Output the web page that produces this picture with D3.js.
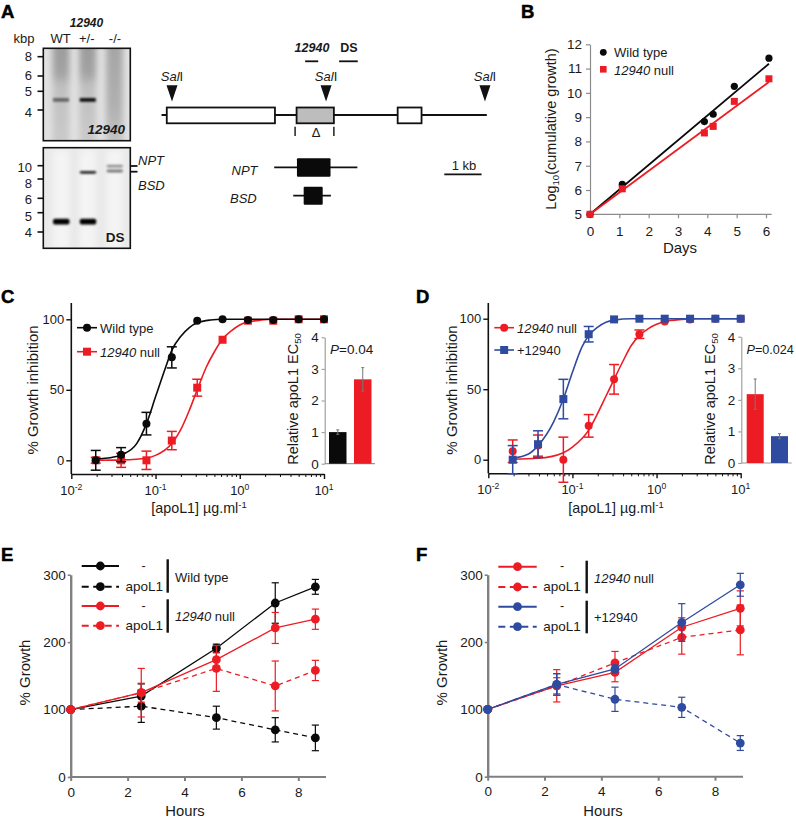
<!DOCTYPE html>
<html><head><meta charset="utf-8">
<script src="https://cdnjs.cloudflare.com/ajax/libs/d3/7.8.5/d3.min.js"></script>
<style>html,body{margin:0;padding:0;background:#fff}svg{display:block}text{font-family:"Liberation Sans",Arial,sans-serif;fill:#1a1a1a}</style>
</head><body><svg id="c" width="796" height="818"></svg>
<script>
// ---------- data ----------
const RED="#ed1c24", BLACK="#0a0a0a", BLUE="#2f4b9f", GREY="#808080";
// A blots
const laneNames=["WT","+/-","-/-"];
const kbpUpper=[8,6,5,4];
const kbpLower=[10,8,6,5,4];
const upperBandLane=["WT","+/-"];
const upperBandKb=[4.54,4.54];
const upperBandDark=[0.5,0.95];
const lowerBandLane=["WT","+/-","+/-","-/-","-/-"];
const lowerBandKb=[4.54,4.54,9.0,9.95,9.2];
const lowerBandDark=[1,1,0.85,0.4,0.5];
// A map (kb from the first SalI site)
const salSites=[0,4.13,8.39];
const geneLine=[-0.28,8.44];
const exonStart=[-0.14,3.34,6.05];
const exonEnd=[2.76,4.34,6.69];
const exonFill=["#fff","#bdbdbd","#fff"];
const probe12940=[3.57,3.92];
const probeDS=[4.48,4.98];
const deltaTicks=[3.30,4.34];
const nptLine=[2.74,4.97], nptBox=[3.35,4.25];
const bsdLine=[3.25,4.26], bsdBox=[3.53,4.04];
const scaleBar=[7.30,8.30];
// B
const daysB=[0,1.1,3.9,4.2,4.92,6.1];
const wtB=[5,6.23,8.82,9.12,10.27,11.43];
const nullB=[5,6.05,8.35,8.62,9.65,10.58];
const fitDays=[0,6.1];
const fitWt=[5,11.2];
const fitNull=[5,10.45];
// C, D dose response
const dose=[0.0195,0.039,0.078,0.156,0.3125,0.625,1.25,2.5,5,10];
const wtC=[0,4,26,73,99,100,99.5,99.5,100,100];
const wtCerr=[7,5,8,7.5,0,0,0,0,0,0];
const nullC=[0,0,0,14,51.5,85.5,99,99,100,100];
const nullCerr=[2,5,6.5,6.5,6,0,0,0,0,0];
const curveDoseWtC=[0.0195,0.03,0.04,0.06,0.078,0.1,0.13,0.156,0.2,0.25,0.3125,0.45,0.625,10];
const curveWtC=[1,2,4,12,26,45,65,78,88,94,97.5,99.5,100,100];
const curveDoseNullC=[0.0195,0.04,0.078,0.1,0.156,0.2,0.25,0.3125,0.4,0.5,0.625,0.8,1,1.25,1.8,2.5,10];
const curveNullC=[0,0.3,1.5,3.5,12,22,35,50,66,77,86,92,96,98,99.5,100,100];
const nullD=[6,10,0,24,57,89,98,99.5,100,100];
const nullDerr=[8,7.5,16,8,10.5,3,0,0,0,0];
const plusD=[0,11,43,89,99.5,100,100,100,100,100];
const plusDerr=[10,9.5,14,5.5,0,0,0,0,0,0];
const curveDosePlusD=[0.0195,0.03,0.039,0.06,0.078,0.1,0.13,0.156,0.2,0.25,0.3125,0.5,10];
const curvePlusD=[1,4,10,27,43,62,80,88,94,97.5,99,100,100];
const curveDoseNullD=[0.0195,0.039,0.078,0.1,0.156,0.2,0.25,0.3125,0.4,0.5,0.625,0.8,1,1.25,2,3,10];
const curveNullD=[0.3,1,5,9,21,33,45,57,70,81,88,93,96,98,99.5,100,100];
// insets
const barC=[1,2.67], barCerr=[0.07,0.37];
const barD=[2.18,0.85], barDerr=[0.48,0.08];
// E
const hoursE=[0,2.48,5.12,7.19,8.6];
const wtE=[100,120,191,258,282];
const wtEerr=[0,18,6,30,11];
const wtApoE=[100,105,88,70,58];
const wtApoEerr=[0,24,17,18,19];
const nullE=[100,125,174,221,234];
const nullEerr=[0,14,10,23,15];
const nullApoE=[100,125,161,135,158];
const nullApoEerr=[0,36,34,37,15];
// F
const hoursF=[0,2.43,4.48,6.83,8.89];
const nullF=[100,135,155,222,250];
const nullFerr=[0,12,14,14,26];
const nullApoF=[100,135,169,207,218];
const nullApoFerr=[0,24,17,25,37];
const plusF=[100,137,160,229,285];
const plusFerr=[0,16,6,28,17];
const plusApoF=[100,137,115,103,50];
const plusApoFerr=[0,16,18,15,11];

// ---------- helpers ----------
const svg=d3.select("#c");
const defs=svg.append("defs");
defs.append("filter").attr("id","b1").attr("x","-30%").attr("y","-60%").attr("width","160%").attr("height","220%").append("feGaussianBlur").attr("stdDeviation",0.9);
defs.append("filter").attr("id","b3").attr("x","-40%").attr("y","-30%").attr("width","180%").attr("height","160%").append("feGaussianBlur").attr("stdDeviation",3);
function T(x,y,segs,o={}){
  const t=svg.append("text").attr("x",x).attr("y",y).attr("font-size",o.size||13)
    .attr("text-anchor",o.anchor||"start");
  if(o.rotate) t.attr("transform",`rotate(${o.rotate} ${x} ${y})`);
  if(typeof segs==="string") segs=[{t:segs,w:o.weight,i:o.italic}];
  segs.forEach(s=>{
    const p=t.append("tspan").text(s.t);
    if(s.i||o.italic) p.attr("font-style","italic");
    if(s.w||o.weight) p.attr("font-weight",s.w||o.weight);
    if(s.sup){p.attr("font-size",(o.size||13)*0.66).attr("dy",-5);}
    if(s.sub){p.attr("font-size",(o.size||13)*0.66).attr("dy",3);}
    if(s.back) p.attr("dy",s.back);
  });
  return t;
}
function styleAxis(g,col,w,fs){
  g.select(".domain").attr("stroke",col).attr("stroke-width",w);
  g.selectAll(".tick line").attr("stroke",col).attr("stroke-width",w);
  g.selectAll("text").attr("font-size",fs||13).style("font-family",'"Liberation Sans",Arial,sans-serif').attr("fill","#1a1a1a");
}
function errBars(g,xs,ys,es,x,y,col,cap,w){
  xs.forEach((d,i)=>{ if(!es[i]) return;
    const px=x(d),a=y(ys[i]-es[i]),b=y(ys[i]+es[i]);
    g.append("line").attr("x1",px).attr("x2",px).attr("y1",a).attr("y2",b).attr("stroke",col).attr("stroke-width",w);
    [a,b].forEach(v=>g.append("line").attr("x1",px-cap).attr("x2",px+cap).attr("y1",v).attr("y2",v).attr("stroke",col).attr("stroke-width",w));
  });
}
function circles(g,xs,ys,x,y,col,r){
  g.selectAll(null).data(xs).enter().append("circle").attr("cx",d=>x(d)).attr("cy",(d,i)=>y(ys[i])).attr("r",r).attr("fill",col);
}
function squares(g,xs,ys,x,y,col,s){
  g.selectAll(null).data(xs).enter().append("rect").attr("x",d=>x(d)-s/2).attr("y",(d,i)=>y(ys[i])-s/2).attr("width",s).attr("height",s).attr("fill",col);
}
function path(g,xs,ys,x,y,col,w,dash,curve){
  const l=d3.line().x(d=>x(d[0])).y(d=>y(d[1]));
  if(curve) l.curve(curve);
  const p=g.append("path").attr("d",l(xs.map((d,i)=>[d,ys[i]]))).attr("fill","none").attr("stroke",col).attr("stroke-width",w);
  if(dash) p.attr("stroke-dasharray",dash);
}
const panelLetters=[["A",1,17.5],["B",521,17.5],["C",1,302.5],["D",416,302.5],["E",1,561],["F",416,561]];
panelLetters.forEach(p=>T(p[1],p[2],p[0],{size:18.5,weight:"bold"}).select("tspan").attr("fill","#000").attr("stroke","#000").attr("stroke-width",0.5));

// ---------- A blots ----------
const laneX=d3.scalePoint().domain(laneNames).range([61,114.5]);
const blotU=svg.append("g"), blotL=svg.append("g");
const uY=d3.scaleLinear().domain([8,6,5,4]).range([56.7,76,91.3,110]);
const lY=d3.scaleLinear().domain([10,8,6,5,4]).range([165.7,179,198.3,212.7,232]);
const uLab=d3.scaleOrdinal().domain([8,6,5,4]).range([56,75,91,112.7]);
const lLab=d3.scaleOrdinal().domain([10,8,6,5,4]).range([167.7,183.3,199,216,232]);
defs.append("clipPath").attr("id","cu").append("rect").attr("x",43.5).attr("y",48.5).attr("width",87).attr("height",92);
defs.append("clipPath").attr("id","cl").append("rect").attr("x",43.5).attr("y",148).attr("width",87).attr("height",100);
const gu=blotU.append("g").attr("clip-path","url(#cu)");
gu.append("rect").attr("x",43).attr("y",48).attr("width",88).attr("height",93).attr("fill","#e2e2e2");
const lgU=defs.append("linearGradient").attr("id","lanes").attr("x1",0).attr("x2",0).attr("y1",0).attr("y2",1);
[[0,"#9a9a9a"],[0.3,"#a2a2a2"],[0.42,"#c0c0c0"],[1,"#cbcbcb"]].forEach(s=>lgU.append("stop").attr("offset",s[0]).attr("stop-color",s[1]));
const lgN=defs.append("linearGradient").attr("id","laneN").attr("x1",0).attr("x2",0).attr("y1",0).attr("y2",1);
[[0,"#a4a4a4"],[0.6,"#b0b0b0"],[1,"#c8c8c8"]].forEach(s=>lgN.append("stop").attr("offset",s[0]).attr("stop-color",s[1]));
laneNames.forEach((n,i)=>gu.append("rect").attr("x",laneX(n)-8.5).attr("y",40).attr("width",17).attr("height",110).attr("fill",i===2?"url(#laneN)":"url(#lanes)").attr("filter","url(#b3)"));
upperBandLane.forEach((n,i)=>gu.append("rect").attr("x",laneX(n)-8).attr("y",uY(upperBandKb[i])-1.8).attr("width",16).attr("height",3.6)
  .attr("fill","#000").attr("opacity",upperBandDark[i]).attr("filter","url(#b1)"));
const gl=blotL.append("g").attr("clip-path","url(#cl)");
gl.append("rect").attr("x",43).attr("y",147).attr("width",88).attr("height",102).attr("fill","#e9e9e9");
laneNames.forEach(n=>gl.append("rect").attr("x",laneX(n)-8).attr("y",150).attr("width",16).attr("height",100).attr("fill","#f4f4f4").attr("filter","url(#b3)"));
lowerBandLane.forEach((n,i)=>{
  const big=lowerBandKb[i]<5;
  gl.append("rect").attr("x",laneX(n)-8).attr("y",lY(lowerBandKb[i])-(big?2.8:1.4)).attr("width",16.5).attr("height",big?5.6:2.8)
    .attr("rx",2).attr("fill","#000").attr("opacity",lowerBandDark[i]).attr("filter","url(#b1)");
});
[[48.3,92.4],[147.7,100.6]].forEach(r=>svg.append("rect").attr("x",43.3).attr("y",r[0]).attr("width",87).attr("height",r[1]).attr("fill","none").attr("stroke","#111").attr("stroke-width",1.6));
kbpUpper.forEach(k=>{svg.append("line").attr("x1",37.5).attr("x2",43).attr("y1",uY(k)).attr("y2",uY(k)).attr("stroke","#111").attr("stroke-width",1.6);
  T(32,uLab(k)+4.7,String(k),{anchor:"end",size:13});});
kbpLower.forEach(k=>{svg.append("line").attr("x1",37.5).attr("x2",43).attr("y1",lY(k)).attr("y2",lY(k)).attr("stroke","#111").attr("stroke-width",1.6);
  T(32,lLab(k)+4.7,String(k),{anchor:"end",size:13});});
T(86.5,27,"12940",{anchor:"middle",size:12,weight:"bold",italic:true});
T(13.5,43,"kbp",{size:13});
const laneLabelX=[60.5,86.7,115];
laneNames.forEach((n,i)=>T(laneLabelX[i],43,n,{anchor:"middle",size:13}));
T(125,134,"12940",{anchor:"end",size:13.5,weight:"bold",italic:true});
T(124.5,242,"DS",{anchor:"end",size:13.5,weight:"bold"});
[166,171.7].forEach(v=>svg.append("line").attr("x1",130.5).attr("x2",137.5).attr("y1",v).attr("y2",v).attr("stroke","#111").attr("stroke-width",1.8));
T(138,165,"NPT",{size:13,italic:true});
T(138,181+9,"BSD",{size:13,italic:true});

// ---------- A map ----------
const kb=d3.scaleLinear().domain([0,1]).range([172,209.3]);
const mp=svg.append("g");
const hl=(a,y,w,col)=>mp.append("line").attr("x1",kb(a[0])).attr("x2",kb(a[1])).attr("y1",y).attr("y2",y).attr("stroke",col||"#111").attr("stroke-width",w);
hl(geneLine,115,1.8);
exonStart.forEach((s,i)=>mp.append("rect").attr("x",kb(s)).attr("y",107.5).attr("width",kb(exonEnd[i])-kb(s)).attr("height",15.8).attr("fill",exonFill[i]).attr("stroke","#111").attr("stroke-width",1.8));
salSites.forEach(s=>{
  const x=kb(s);
  mp.append("path").attr("d",d3.line()([[x-5.5,85.3],[x+5.5,85.3],[x,101.5]])+"Z").attr("fill","#111");
  T(x,81,[{t:"Sal",i:true},{t:"I"}],{anchor:"middle",size:13});
});
hl(probe12940,61.3,1.8); hl(probeDS,61.3,1.8);
T(312,52,"12940",{anchor:"middle",size:12.5,weight:"bold",italic:true});
T(349,52,"DS",{anchor:"middle",size:12.5,weight:"bold"});
deltaTicks.forEach(d=>mp.append("line").attr("x1",kb(d)).attr("x2",kb(d)).attr("y1",126.7).attr("y2",136).attr("stroke","#111").attr("stroke-width",1.4));
T(316,137,"Δ",{anchor:"middle",size:13});
hl(nptLine,167.3,1.8);
mp.append("rect").attr("x",kb(nptBox[0])).attr("y",158.3).attr("width",kb(nptBox[1])-kb(nptBox[0])).attr("height",18.4).attr("rx",1).attr("fill","#0a0a0a");
hl(bsdLine,195.7,1.8);
mp.append("rect").attr("x",kb(bsdBox[0])).attr("y",186.7).attr("width",kb(bsdBox[1])-kb(bsdBox[0])).attr("height",18).attr("rx",1).attr("fill","#0a0a0a");
T(231.5,175,"NPT",{size:13,italic:true});
T(230,203,"BSD",{size:13,italic:true});
hl(scaleBar,174.3,1.8);
T(kb(7.83),170,"1 kb",{anchor:"middle",size:13});

// ---------- B ----------
{
  const x=d3.scaleLinear().domain([0,6]).range([590,766]);
  const y=d3.scaleLinear().domain([5,12]).range([214.3,44.3]);
  const g=svg.append("g");
  const ax=g.append("g").attr("transform","translate(0,214.3)").call(d3.axisBottom(x).tickValues(d3.range(0,7)).tickSize(4).tickPadding(8).tickFormat(d3.format("d")).tickSizeOuter(0));
  styleAxis(ax,"#8c8c8c",1.2,13.5);
  ax.select(".domain").attr("d","M590,0H771.7");
  const ay=g.append("g").attr("transform","translate(590,0)").call(d3.axisLeft(y).tickValues(d3.range(5,13)).tickSize(4).tickPadding(4).tickFormat(d3.format("d")).tickSizeOuter(0));
  styleAxis(ay,"#8c8c8c",1.2,13.5);
  path(g,fitDays,fitWt,x,y,BLACK,1.8);
  path(g,fitDays,fitNull,x,y,RED,1.8);
  circles(g,daysB,wtB,x,y,BLACK,3.6);
  squares(g,daysB,nullB,x,y,RED,7);
  g.append("circle").attr("cx",603.3).attr("cy",52.3).attr("r",3.4).attr("fill",BLACK);
  g.append("rect").attr("x",600).attr("y",66).attr("width",6.6).attr("height",6.6).attr("fill",RED);
  T(614,57,"Wild type",{size:13});
  T(614,75,[{t:"12940",i:true},{t:" null"}],{size:13});
  T(680,253,"Days",{anchor:"middle",size:15});
  T(556,129,[{t:"Log"},{t:"10",sub:true},{t:"(cumulative growth)",back:-3}],{anchor:"middle",size:14.5,rotate:-90});
}

// ---------- C, D ----------
function doseChart(o){
  const x=d3.scaleLog().domain([0.01,10]).range([o.x0,o.x1]);
  const y=d3.scaleLinear().domain([0,100]).range([o.y0,o.y100]);
  const g=svg.append("g");
  const minor=[];
  [0.01,0.1,1].forEach(b=>d3.range(2,10).forEach(m=>minor.push(b*m)));
  const am=g.append("g").attr("transform",`translate(0,${o.yb})`).call(d3.axisBottom(x).tickValues(minor).tickSize(3).tickFormat("").tickSizeOuter(0));
  styleAxis(am,"#111",1);
  am.select(".domain").attr("stroke-width",1.6);
  const aM=g.append("g").attr("transform",`translate(0,${o.yb})`).call(d3.axisBottom(x).tickValues([0.01,0.1,1,10]).tickSize(5).tickPadding(6).tickFormat(d=>"").tickSizeOuter(0));
  styleAxis(aM,"#111",1.4);
  aM.select(".domain").remove();
  [[0.01,"-2"],[0.1,"-1"],[1,"0"],[10,"1"]].forEach(d=>T(x(d[0]),o.yb+20.5,[{t:"10"},{t:d[1],sup:true}],{anchor:"middle",size:13}));
  const ay=g.append("g").attr("transform",`translate(${o.x0},0)`).call(d3.axisLeft(y).tickValues([0,50,100]).tickSize(5).tickPadding(2).tickFormat(d3.format("d")).tickSizeOuter(0));
  styleAxis(ay,"#111",1.4,13);
  ay.select(".domain").attr("d",`M0,${o.yb}V${o.ytop}`).attr("stroke-width",1.6);
  o.series.forEach(s=>{
    path(g,s.cx,s.cy,x,y,s.col,1.6,null,d3.curveMonotoneX);
    errBars(g,dose,s.v,s.e,x,y,s.col,5,1.5);
    if(s.shape==="c") circles(g,dose,s.v,x,y,s.col,4);
    else squares(g,dose,s.v,x,y,s.col,8);
    g.append("line").attr("x1",o.lx0).attr("x2",o.lx1).attr("y1",s.ly).attr("y2",s.ly).attr("stroke",s.col).attr("stroke-width",1.6);
    if(s.shape==="c") g.append("circle").attr("cx",(o.lx0+o.lx1)/2).attr("cy",s.ly).attr("r",4).attr("fill",s.col);
    else g.append("rect").attr("x",(o.lx0+o.lx1)/2-4).attr("y",s.ly-4).attr("width",8).attr("height",8).attr("fill",s.col);
    T(o.lx1+3,s.ly+5,s.label,{size:13});
  });
  T(o.xlabel,513,[{t:"[apoL1] µg.ml"},{t:"-1",sup:true}],{anchor:"middle",size:14.3});
  T(o.ylabelX,390,"% Growth inhibition",{anchor:"middle",size:15,rotate:-90});
  // inset
  const iy=d3.scaleLinear().domain([0,4]).range([o.i0,o.i4]);
  const ix=d3.scaleBand().domain([0,1]).range([o.ix0,o.ix1]).paddingInner(0.3);
  const ia=g.append("g").attr("transform",`translate(${o.ia},0)`).call(d3.axisLeft(iy).tickValues([0,1,2,3,4]).tickSize(3).tickPadding(3).tickFormat(d3.format("d")).tickSizeOuter(0));
  styleAxis(ia,"#999",1.1,13.5);
  g.append("line").attr("x1",o.ia).attr("x2",o.ibase).attr("y1",o.i0).attr("y2",o.i0).attr("stroke","#999").attr("stroke-width",1.2);
  o.bars.forEach((v,i)=>{
    g.append("rect").attr("x",ix(i)).attr("width",ix.bandwidth()).attr("y",iy(v)).attr("height",iy(0)-iy(v)).attr("fill",o.barCols[i]);
    const cx=ix(i)+ix.bandwidth()/2;
    g.append("line").attr("x1",cx).attr("x2",cx).attr("y1",iy(v-o.barErr[i])).attr("y2",iy(v+o.barErr[i])).attr("stroke","#777").attr("stroke-width",1);
    [-1,1].forEach(sg=>g.append("line").attr("x1",cx-1.5).attr("x2",cx+1.5).attr("y1",iy(v+sg*o.barErr[i])).attr("y2",iy(v+sg*o.barErr[i])).attr("stroke","#777").attr("stroke-width",1));
  });
  T(o.ititleX,399,[{t:"Relative apoL1 EC"},{t:"50",sub:true}],{anchor:"middle",size:14.5,rotate:-90});
  T(o.pX,354,[{t:"P",i:true},{t:o.pText}],{size:o.pSize});
}
doseChart({x0:71.3,x1:324,y0:460.3,y100:319.3,yb:474,ytop:303,lx0:77,lx1:97,xlabel:199,ylabelX:38,
  i0:463.7,i4:337.3,ia:324.7,ibase:375,ix0:329,ix1:371.5,bars:barC,barErr:barCerr,barCols:[BLACK,RED],ititleX:298,pX:330,pText:"=0.04",pSize:13.5,
  series:[
   {v:nullC,e:nullCerr,cx:curveDoseNullC,cy:curveNullC,col:RED,shape:"s",ly:351.7,label:[{t:"12940",i:true},{t:" null"}]},
   {v:wtC,e:wtCerr,cx:curveDoseWtC,cy:curveWtC,col:BLACK,shape:"c",ly:327.7,label:"Wild type"}]});
doseChart({x0:488.3,x1:740.7,y0:459.7,y100:318.7,yb:473.3,ytop:303,lx0:494.3,lx1:514,xlabel:616,ylabelX:457,
  i0:463,i4:336.7,ia:741.3,ibase:791.7,ix0:746.7,ix1:788,bars:barD,barErr:barDerr,barCols:[RED,BLUE],ititleX:715,pX:746.5,pText:"=0.024",pSize:12.6,
  series:[
   {v:nullD,e:nullDerr,cx:curveDoseNullD,cy:curveNullD,col:RED,shape:"c",ly:327.7,label:[{t:"12940",i:true},{t:" null"}]},
   {v:plusD,e:plusDerr,cx:curveDosePlusD,cy:curvePlusD,col:BLUE,shape:"s",ly:350,label:"+12940"}]});

// ---------- E, F ----------
function timeChart(o){
  const x=d3.scaleLinear().domain([0,8]).range([o.x0,o.x8]);
  const y=d3.scaleLinear().domain([0,300]).range([o.y0,574.7]);
  const g=svg.append("g");
  const ax=g.append("g").attr("transform",`translate(0,${o.y0})`).call(d3.axisBottom(x).tickValues([0,2,4,6,8]).tickSize(4).tickPadding(6).tickFormat(d3.format("d")).tickSizeOuter(0));
  styleAxis(ax,GREY,2,13.5);
  ax.select(".domain").attr("d",`M${o.x0-1},0H${o.xEnd}`);
  const ay=g.append("g").attr("transform",`translate(${o.x0},0)`).call(d3.axisLeft(y).tickValues([0,100,200,300]).tickSize(3).tickPadding(2).tickFormat(d3.format("d")).tickSizeOuter(0));
  styleAxis(ay,GREY,2.4,13.5);
  ay.selectAll(".tick line").attr("stroke-width",1.6);
  o.series.forEach(s=>{
    path(g,o.hours,s.v,x,y,s.col,1.3,s.dash?"5,4":null);
    errBars(g,o.hours,s.v,s.e,x,y,s.col,3.6,1.2);
    circles(g,o.hours,s.v,x,y,s.col,4.4);
    g.append("line").attr("x1",o.lx0).attr("x2",o.lx1).attr("y1",s.ly).attr("y2",s.ly).attr("stroke",s.col).attr("stroke-width",2).attr("stroke-dasharray",s.dash?"7,4.5":null);
    g.append("circle").attr("cx",(o.lx0+o.lx1)/2).attr("cy",s.ly).attr("r",4.4).attr("fill",s.col);
    if(s.dash) T(o.lx1+6.5,s.ly+4,"apoL1",{size:13.5});
    else T(o.dashX,s.ly+3.5,"-",{anchor:"middle",size:12.5});
  });
  o.brackets.forEach(b=>{
    g.append("line").attr("x1",o.barX).attr("x2",o.barX).attr("y1",b.a).attr("y2",b.b).attr("stroke","#111").attr("stroke-width",2.4);
    T(o.barX+7.3,b.ty,b.label,{size:13});
  });
  T(o.hx,816,"Hours",{anchor:"middle",size:14.8});
  T(o.gx,672.5,"% Growth",{anchor:"middle",size:15,rotate:-90});
}
timeChart({x0:70.7,x8:298.3,y0:777,xEnd:326,hours:hoursE,lx0:81.7,lx1:119,dashX:143.7,barX:167.7,hx:185,gx:30,
  series:[{v:wtE,e:wtEerr,col:BLACK,ly:566},{v:wtApoE,e:wtApoEerr,col:BLACK,dash:true,ly:586.7},
          {v:nullE,e:nullEerr,col:RED,ly:606},{v:nullApoE,e:nullApoEerr,col:RED,dash:true,ly:625.7}],
  brackets:[{a:559.3,b:592.7,ty:582,label:"Wild type"},{a:599.3,b:632.7,ty:621,label:[{t:"12940",i:true},{t:" null"}]}]});
timeChart({x0:487.7,x8:715,y0:776.7,xEnd:743,hours:hoursF,lx0:498.3,lx1:536.7,dashX:562,barX:586.7,hx:603,gx:447,
  series:[{v:nullF,e:nullFerr,col:RED,ly:566.7},{v:nullApoF,e:nullApoFerr,col:RED,dash:true,ly:587},
          {v:plusF,e:plusFerr,col:BLUE,ly:606.7},{v:plusApoF,e:plusApoFerr,col:BLUE,dash:true,ly:626.7}],
  brackets:[{a:560.7,b:593.3,ty:583,label:[{t:"12940",i:true},{t:" null"}]},{a:600.7,b:633.3,ty:622,label:"+12940"}]});
</script></body></html>
